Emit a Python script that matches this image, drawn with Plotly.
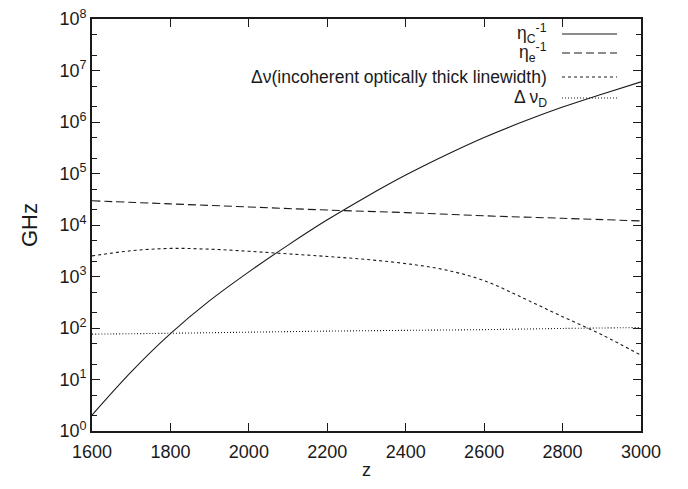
import plotly.graph_objects as go

# ---- data ----
z_c = [1600, 1700, 1800, 1900, 2000, 2100, 2200, 2300, 2400, 2500, 2600, 2700, 2800, 2900, 3000]
eta_c_inv = [2.04, 14.1, 77.6, 339, 1230, 4070, 12600, 35500, 93300, 224000, 501000,
             1.02e6, 1.95e6, 3.47e6, 6.03e6]

z_e = [1600, 1800, 2000, 2200, 2400, 2600, 2800, 3000]
eta_e_inv = [29500, 25700, 22400, 19500, 17400, 15100, 13500, 12000]

z_nu = [1600, 1700, 1800, 1900, 2000, 2100, 2200, 2300, 2400, 2500, 2600, 2700, 2800, 2900, 3000]
delta_nu = [2510, 3160, 3510, 3390, 3090, 2750, 2450, 2140, 1780, 1350, 832, 380, 166, 74, 29.5]

z_d = [1600, 1800, 2000, 2200, 2400, 2600, 2800, 3000]
delta_nu_d = [76, 79, 83, 87, 90, 93, 98, 102]

x_ticks = [1600, 1800, 2000, 2200, 2400, 2600, 2800, 3000]
y_ticks = [1, 10, 100, 1e3, 1e4, 1e5, 1e6, 1e7, 1e8]
y_ticktext = ["10<sup>%d</sup>" % i for i in range(9)]

legend_labels = ["η<sub>C</sub><sup>-1</sup>", "η<sub>e</sub><sup>-1</sup>",
                 "Δν(incoherent optically thick linewidth)", "Δ ν<sub>D</sub>"]

FONT = "Liberation Sans, Arial, Helvetica, sans-serif"
INK = "#1a1a1a"

series = [
    (z_c, eta_c_inv, "solid", 1.1),
    (z_e, eta_e_inv, "8px,4px", 1.1),
    (z_nu, delta_nu, "3px,3px", 1.1),
    (z_d, delta_nu_d, "1px,2px", 1.1),
]

fig = go.Figure()
for (xs, ys, dash, w), name in zip(series, legend_labels):
    fig.add_trace(go.Scatter(x=xs, y=ys, mode="lines", name=name,
                             line=dict(color=INK, width=w, dash=dash, shape="spline", smoothing=1.0),
                             showlegend=False))

# gnuplot-style legend: right-aligned text, line sample on the right
leg_y = [34, 53, 77, 98]  # pixel rows in the 489-high page
plot_top, plot_h = 19, 412
plot_left, plot_w = 92, 549
for (xs, ys, dash, w), name, py in zip(series, legend_labels, leg_y):
    yp = 1 - (py - plot_top) / plot_h
    x0 = (562 - plot_left) / plot_w
    x1 = (617 - plot_left) / plot_w
    fig.add_shape(type="line", xref="paper", yref="paper", x0=x0, x1=x1, y0=yp, y1=yp,
                  line=dict(color=INK, width=w, dash=dash))
    fig.add_annotation(xref="paper", yref="paper", x=(549 - plot_left) / plot_w, y=yp,
                       xanchor="right", yanchor="middle", showarrow=False, text=name,
                       font=dict(family=FONT, size=17.5, color=INK))

# x-axis title placed as in the reference
fig.add_annotation(xref="paper", yref="paper", x=0.5, y=1 - (470 - plot_top) / plot_h,
                   xanchor="center", yanchor="middle", showarrow=False, text="z",
                   font=dict(family=FONT, size=18, color=INK))

minor_vals = [k * 10 ** n for n in range(8) for k in (2, 5)]

fig.update_layout(
    width=688, height=489,
    margin=dict(l=92, r=47, t=19, b=58),
    paper_bgcolor="white", plot_bgcolor="white",
    font=dict(family=FONT, size=18, color=INK),
    xaxis=dict(range=[1600, 3000], tickvals=x_ticks, ticks="inside", ticklen=8,
               showline=True, linecolor=INK, linewidth=1.6, mirror="ticks",
               tickcolor=INK, tickwidth=1.3, ticklabelstandoff=4, automargin=False,
               showgrid=False, zeroline=False,
               tickfont=dict(size=18)),
    yaxis=dict(type="log", range=[0, 8], tickvals=y_ticks, ticktext=y_ticktext,
               ticks="inside", ticklen=8, showline=True, linecolor=INK, linewidth=1.6,
               tickcolor=INK, tickwidth=1.3, automargin=False,
               mirror="ticks", showgrid=False, zeroline=False,
               title=dict(text="GHz", standoff=16), tickfont=dict(size=18),
               minor=dict(tickvals=minor_vals, ticks="inside", ticklen=5,
                          tickcolor=INK, tickwidth=1.3, showgrid=False)),
)

fig.write_html("out.html")
